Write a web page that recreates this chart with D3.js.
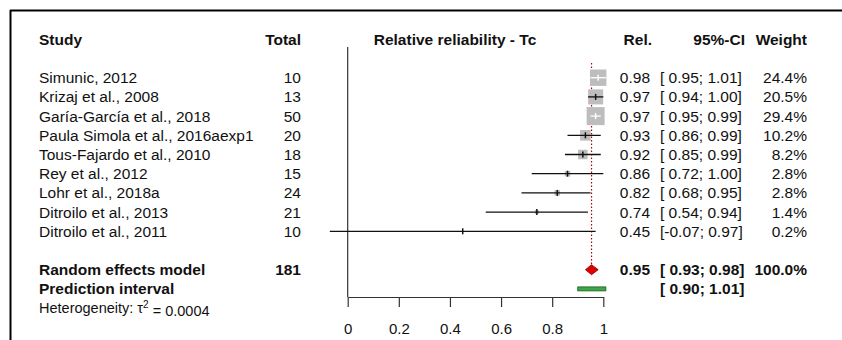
<!DOCTYPE html>
<html>
<head>
<meta charset="utf-8">
<script src="https://cdn.jsdelivr.net/npm/d3@7"></script>
<style>
  body { margin: 0; background: #fff; }
  text { font-family: "Liberation Sans", Arial, sans-serif; font-size: 15.5px; fill: #111; white-space: pre; }
  .bold { font-weight: bold; }
</style>
</head>
<body>
<div id="chart"></div>
<script>
// study data
let studies = ["Simunic, 2012", "Krizaj et al., 2008", "Garía-García et al., 2018",
  "Paula Simola et al., 2016aexp1", "Tous-Fajardo et al., 2010", "Rey et al., 2012",
  "Lohr et al., 2018a", "Ditroilo et al., 2013", "Ditroilo et al., 2011"];
let totals = [10, 13, 50, 20, 18, 15, 24, 21, 10];
let estimates = [0.98, 0.97, 0.97, 0.93, 0.92, 0.86, 0.82, 0.74, 0.45];
let lowers = [0.95, 0.94, 0.95, 0.86, 0.85, 0.72, 0.68, 0.54, -0.07];
let uppers = [1.01, 1.00, 0.99, 0.99, 0.99, 1.00, 0.95, 0.94, 0.97];
let weights = [24.4, 20.5, 29.4, 10.2, 8.2, 2.8, 2.8, 1.4, 0.2];

// pooled results
let pooledEst = 0.954;
let pooledCI = [0.93, 0.98];
let predInterval = [0.90, 1.01];
let totalN = 181;
let tau2 = "0.0004";

let xTicks = [0, 0.2, 0.4, 0.6, 0.8, 1];

let width = 842, height = 340;

let svg = d3.select("#chart").append("svg")
  .attr("width", width)
  .attr("height", height);

// frame (left + top only, rest is cropped)
svg.append("line").attr("x1", 10.5).attr("x2", 10.5).attr("y1", 10).attr("y2", height)
  .attr("stroke", "#000").attr("stroke-width", 2);
svg.append("line").attr("x1", 10).attr("x2", width).attr("y1", 10.5).attr("y2", 10.5)
  .attr("stroke", "#000").attr("stroke-width", 2);

let x = d3.scaleLinear().domain([0, 1]).range([347.7, 603.3]);
// row index -> y ; header is row -2, studies 0..8, pooled 10, prediction 11, heterogeneity 12
let y = d3.scaleLinear().domain([-2, 12]).range([39.3, 308.1]);
let box = d3.scaleSqrt().domain([0, 29.4]).range([0, 18]);

let fmt = v => v.toFixed(2);
function ci(lo, hi) {
  return "[" + (lo < 0 ? "" : " ") + fmt(lo) + "; " + fmt(hi) + "]";
}

// headers
let header = svg.append("g");
function head(xp, anchor, label) {
  header.append("text").attr("x", xp).attr("y", y(-2)).attr("dy", "0.35em")
    .attr("text-anchor", anchor).attr("class", "bold").text(label);
}
head(39, "start", "Study");
head(301, "end", "Total");
head(455, "middle", "Relative reliability - Tc");
head(652, "end", "Rel.");
head(745, "end", "95%-CI");
head(807, "end", "Weight");

// no-effect line at 0
svg.append("line")
  .attr("x1", x(0)).attr("x2", x(0))
  .attr("y1", 47).attr("y2", 297)
  .attr("stroke", "#333").attr("stroke-width", 1.2);

// pooled estimate dotted line
svg.append("line")
  .attr("x1", x(pooledEst)).attr("x2", x(pooledEst))
  .attr("y1", 63).attr("y2", y(10) - 5)
  .attr("stroke", "#b00000").attr("stroke-width", 1.2)
  .attr("stroke-dasharray", "1.5,2");

let rows = studies.map(function(s, i) {
  return {study: s, n: totals[i], est: estimates[i], lo: lowers[i], hi: uppers[i], w: weights[i], i: i};
});

let g = svg.append("g");

// study text columns
g.selectAll(".study").data(rows).enter().append("text")
  .attr("x", 39).attr("y", d => y(d.i)).attr("dy", "0.35em").text(d => d.study);
g.selectAll(".n").data(rows).enter().append("text")
  .attr("x", 301).attr("y", d => y(d.i)).attr("dy", "0.35em").attr("text-anchor", "end").text(d => d.n);
g.selectAll(".rel").data(rows).enter().append("text")
  .attr("x", 650).attr("y", d => y(d.i)).attr("dy", "0.35em").attr("text-anchor", "end").text(d => fmt(d.est));
g.selectAll(".ci").data(rows).enter().append("text")
  .attr("x", 660).attr("y", d => y(d.i)).attr("dy", "0.35em").text(d => ci(d.lo, d.hi));
g.selectAll(".wt").data(rows).enter().append("text")
  .attr("x", 807).attr("y", d => y(d.i)).attr("dy", "0.35em").attr("text-anchor", "end").text(d => d.w.toFixed(1) + "%");

// boxes
g.selectAll(".box").data(rows).enter().append("rect")
  .attr("x", d => x(d.est) - box(d.w) / 2)
  .attr("y", d => y(d.i) - box(d.w) / 2)
  .attr("width", d => box(d.w))
  .attr("height", d => box(d.w))
  .attr("fill", "#bdbdbd");

function inside(d) {
  return x(d.hi) - x(d.lo) < box(d.w);
}

// CI lines
g.selectAll(".ciline").data(rows).enter().append("line")
  .attr("x1", d => x(d.lo)).attr("x2", d => x(d.hi))
  .attr("y1", d => y(d.i)).attr("y2", d => y(d.i))
  .attr("stroke", d => inside(d) ? "#fff" : "#111")
  .attr("stroke-width", 1.3);

// estimate ticks
g.selectAll(".tick").data(rows).enter().append("line")
  .attr("x1", d => x(d.est)).attr("x2", d => x(d.est))
  .attr("y1", d => y(d.i) - 3).attr("y2", d => y(d.i) + 3)
  .attr("stroke", d => inside(d) ? "#fff" : "#111")
  .attr("stroke-width", 1.5);

// pooled diamond
let yp = y(10);
svg.append("path")
  .attr("d", "M" + x(pooledCI[0]) + "," + yp + "L" + x(pooledEst) + "," + (yp - 5) +
    "L" + x(pooledCI[1]) + "," + yp + "L" + x(pooledEst) + "," + (yp + 5) + "Z")
  .attr("fill", "#e00000").attr("stroke", "#800000").attr("stroke-width", 0.8);

// prediction interval bar
svg.append("rect")
  .attr("x", x(predInterval[0])).attr("y", y(11) - 2)
  .attr("width", x(predInterval[1]) - x(predInterval[0])).attr("height", 4)
  .attr("fill", "#3aa845").attr("stroke", "#1f5a25").attr("stroke-width", 0.8);

// pooled text
let pt = svg.append("g");
pt.append("text").attr("x", 39).attr("y", y(10)).attr("dy", "0.35em").attr("class", "bold").text("Random effects model");
pt.append("text").attr("x", 301).attr("y", y(10)).attr("dy", "0.35em").attr("text-anchor", "end").attr("class", "bold").text(totalN);
pt.append("text").attr("x", 650).attr("y", y(10)).attr("dy", "0.35em").attr("text-anchor", "end").attr("class", "bold").text(fmt(pooledEst));
pt.append("text").attr("x", 660).attr("y", y(10)).attr("dy", "0.35em").attr("class", "bold").text(ci(pooledCI[0], pooledCI[1]));
pt.append("text").attr("x", 807).attr("y", y(10)).attr("dy", "0.35em").attr("text-anchor", "end").attr("class", "bold").text("100.0%");
pt.append("text").attr("x", 39).attr("y", y(11)).attr("dy", "0.35em").attr("class", "bold").text("Prediction interval");
pt.append("text").attr("x", 660).attr("y", y(11)).attr("dy", "0.35em").attr("class", "bold").text(ci(predInterval[0], predInterval[1]));

let het = pt.append("text").attr("x", 39).attr("y", y(12)).attr("dy", "0.35em").style("font-size", "14.5px");
het.append("tspan").text("Heterogeneity: τ");
het.append("tspan").attr("dy", "-0.55em").style("font-size", "10px").text("2");
het.append("tspan").attr("dy", "0.55em").text(" = " + tau2);

// x axis
let axis = svg.append("g")
  .attr("transform", "translate(0,297)")
  .call(d3.axisBottom(x).tickValues(xTicks).tickSize(10).tickSizeOuter(0).tickPadding(16)
    .tickFormat(d => d === 0 || d === 1 ? d3.format("d")(d) : d3.format(".1f")(d)));
axis.select(".domain").attr("stroke", "#333").attr("stroke-width", 1.2);
axis.selectAll(".tick line").attr("stroke", "#333").attr("stroke-width", 1.2);
axis.selectAll(".tick text").style("font-size", "15px").attr("font-family", null).attr("fill", "#111");
</script>
</body>
</html>
